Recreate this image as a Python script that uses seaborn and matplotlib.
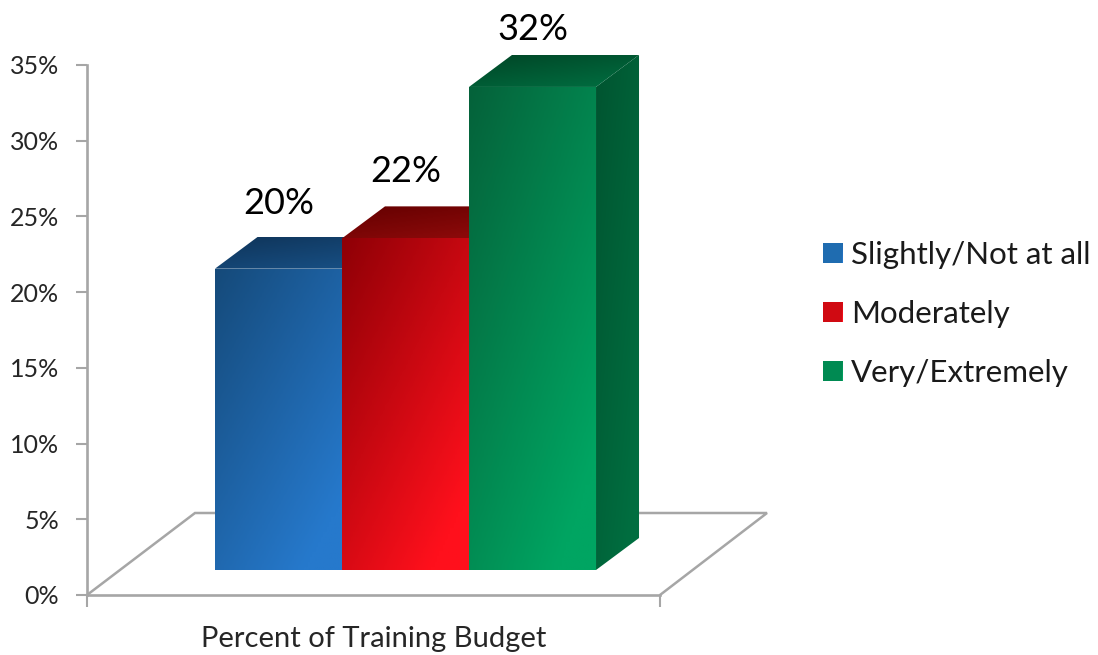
import numpy as np
import pandas as pd
import matplotlib
matplotlib.use("Agg")
import matplotlib.pyplot as plt
import seaborn as sns
from matplotlib.colors import LinearSegmentedColormap
from matplotlib.patches import Polygon

# data
levels = ["Slightly/Not at all", "Moderately", "Very/Extremely"]
percent = [19.9, 21.9, 31.9]
budget_label = "Percent of Training Budget"
y_ticks = [0, 5, 10, 15, 20, 25, 30, 35]

# colours: (dark corner, light corner) for each face
mid_colors = ["#1f6cb0", "#d00a12", "#008a52"]
front_colors = [("#154a7a", "#2679cc"), ("#8f0006", "#ff101c"), ("#05623a", "#00a562")]
top_colors = [("#0f3459", "#174e82"), ("#640000", "#8c0a0a"), ("#004526", "#006a3e")]
side_colors = [("#0f3459", "#174e82"), ("#640000", "#8c0a0a"), ("#005430", "#006e40")]
grey = "#a6a6a6"

W, H = 1098, 655
sns.set_theme(style="white")
plt.rcParams["font.family"] = ["Lato", "DejaVu Sans"]

df = pd.DataFrame({"budget": budget_label, "level": levels, "percent": percent})

fig = plt.figure(figsize=(W / 100, H / 100), dpi=100)
ax = fig.add_axes([87 / W, (H - 595) / H, 573 / W, 530 / H])
# bars sit on a floor that is shifted back, so they get their own axes
ax_bars = fig.add_axes([119 / W, (H - 570) / H, 573 / W, 530 / H])
ax_bars.patch.set_alpha(0)

# axes and floor
ax.set_xlim(-0.5, 0.5)
ax.set_ylim(0, 35)
ax.set_yticks(y_ticks)
ax.set_yticklabels([f"{t}%" for t in y_ticks], fontsize=18, color="#262626")
ax.set_xticks([-0.5, 0.5])
ax.set_xticklabels(["", ""])
ax.tick_params(axis="y", length=8, width=1.5, color=grey, pad=12, left=True)
ax.tick_params(axis="x", length=8.5, width=1.5, color=grey, bottom=True)
ax.set_xlabel(budget_label, fontsize=21, color="#262626", labelpad=10.5)
sns.despine(ax=ax)
ax.spines["left"].set(color=grey, linewidth=1.9)
ax.spines["bottom"].set(color=grey, linewidth=1.9)

px_x = 1 / 573
px_y = 35 / 530
floor_x = [-0.5, -0.5 + 108 * px_x, 0.5 + 107 * px_x, 0.5]
floor_y = [0, 82 * px_y, 82 * px_y, 0]
ax.plot(floor_x, floor_y, color=grey, lw=1.8, clip_on=False, solid_joinstyle="miter")

# bars
sns.barplot(data=df, x="budget", y="percent", hue="level", hue_order=levels,
            palette=mid_colors, width=0.665, gap=0, legend=False, ax=ax_bars)
ax_bars.set_xlim(-0.5, 0.5)
ax_bars.set_ylim(0, 35)
ax_bars.set_axis_off()


def shade(axis, verts, colors, z):
    # diagonal gradient clipped to a face, light corner at bottom right
    verts = np.array(verts)
    cmap = LinearSegmentedColormap.from_list("face", colors)
    xx, yy = np.meshgrid(np.linspace(0, 1, 60), np.linspace(0, 1, 60))
    extent = [verts[:, 0].min(), verts[:, 0].max(), verts[:, 1].min(), verts[:, 1].max()]
    im = axis.imshow(np.minimum(0.5 * xx + 0.65 * yy, 1), cmap=cmap, extent=extent, origin="upper",
                     aspect="auto", zorder=z, vmin=0, vmax=1)
    clip = Polygon(verts, closed=True, transform=axis.transData)
    im.set_clip_path(clip)


depth_x = 43 * px_x
depth_y = 32 * px_y
label_offsets = [55, 56, 47]

bars = [c[0] for c in ax_bars.containers]
for i, bar in enumerate(bars):
    x0, w, h = bar.get_x(), bar.get_width(), bar.get_height()
    x1 = x0 + w
    z = 2 + i
    bar.set_visible(False)
    shade(ax_bars, [(x0, 0), (x1, 0), (x1, h), (x0, h)], front_colors[i], z + 0.3)
    shade(ax_bars, [(x0, h), (x1, h), (x1 + depth_x, h + depth_y), (x0 + depth_x, h + depth_y)],
          top_colors[i], z + 0.2)
    shade(ax_bars, [(x1, 0), (x1 + depth_x, depth_y), (x1 + depth_x, h + depth_y), (x1, h)],
          side_colors[i], z + 0.1)
    ax_bars.annotate(f"{percent[i]:.0f}%", (x0 + w / 2, h), xytext=(0, label_offsets[i] * 0.72),
                     textcoords="offset points", ha="center", va="baseline",
                     fontsize=26, color="black", annotation_clip=False, zorder=10)
ax_bars.set_xlim(-0.5, 0.5)
ax_bars.set_ylim(0, 35)

# legend
handles = [plt.Rectangle((0, 0), 1, 1, facecolor=c, edgecolor="none") for c in mid_colors]
leg = fig.legend(handles, levels, loc="center left", bbox_to_anchor=(823 / W, (H - 314) / H),
                 frameon=False, fontsize=22.5, handlelength=0.61, handleheight=0.61,
                 handletextpad=0.29, labelspacing=0.995, borderpad=0, borderaxespad=0,
                 labelcolor="#1a1a1a")

fig.canvas.draw()
for patch, colors in zip(leg.get_patches(), front_colors):
    box = patch.get_window_extent()
    sw = fig.add_axes([box.x0 / W, box.y0 / H, box.width / W, box.height / H])
    xx, yy = np.meshgrid(np.linspace(0, 1, 20), np.linspace(0, 1, 20))
    sw.imshow(0.6 * xx + 0.4 * yy, cmap=LinearSegmentedColormap.from_list("sw", colors),
              aspect="auto", vmin=0, vmax=1)
    sw.set_axis_off()

fig.savefig("out.png", dpi=100, facecolor="white")
